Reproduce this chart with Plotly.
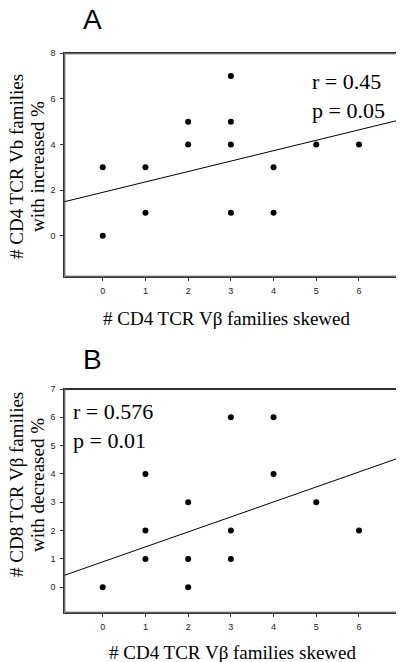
import plotly.graph_objects as go

# Panel A data
a_x = [0, 0, 1, 1, 2, 2, 3, 3, 3, 3, 4, 4, 5, 6]
a_y = [3, 0, 3, 1, 5, 4, 7, 5, 4, 1, 3, 1, 4, 4]
a_fit = (1.9, 0.457)   # intercept, slope
a_stats = ["r = 0.45", "p = 0.05"]
a_ytitle = ["# CD4 TCR Vb families", "with increased %"]

# Panel B data
b_x = [0, 1, 1, 1, 2, 2, 2, 3, 3, 3, 4, 4, 5, 6]
b_y = [0, 4, 2, 1, 3, 1, 0, 6, 2, 1, 6, 4, 3, 2]
b_fit = (0.896, 0.529)
b_stats = ["r = 0.576", "p = 0.01"]
b_ytitle = ["# CD8 TCR V\u03b2 families", "with decreased %"]

x_title = "# CD4 TCR V\u03b2 families skewed"
x_range = [-0.9, 7]
a_yrange = [-1.8, 8]
b_yrange = [-0.9, 7]
x_ticks = [0, 1, 2, 3, 4, 5, 6, 7]
a_yticks = [0, 2, 4, 6, 8]
b_yticks = [0, 1, 2, 3, 4, 5, 6, 7]

OFF = 8  # page body margin
W, H = 404 - OFF, 662 - OFF
AXC = "#333"
fig = go.Figure()

def px(x):
    return (x - OFF) / W

def py(y):
    return 1 - (y - OFF) / H

serif = "Liberation Serif"
sans = "Liberation Sans"

for xs, ys, fit, yr, xa, ya in [(a_x, a_y, a_fit, a_yrange, "x", "y"),
                                (b_x, b_y, b_fit, b_yrange, "x2", "y2")]:
    # plot frame drawn along the axis ranges (half is clipped, leaving a thin border)
    fig.add_trace(go.Scatter(x=[x_range[0], x_range[1], x_range[1], x_range[0], x_range[0]],
                             y=[yr[0], yr[0], yr[1], yr[1], yr[0]], mode="lines",
                             line=dict(color=AXC, width=2), xaxis=xa, yaxis=ya,
                             showlegend=False, hoverinfo="skip"))
    fig.add_trace(go.Scatter(x=xs, y=ys, mode="markers", marker=dict(color="black", size=6),
                             xaxis=xa, yaxis=ya, showlegend=False))
    fig.add_trace(go.Scatter(x=x_range, y=[fit[0] + fit[1] * v for v in x_range], mode="lines",
                             line=dict(color="black", width=1), xaxis=xa, yaxis=ya, showlegend=False))

axis_common = dict(showgrid=False, zeroline=False, showline=True, linecolor=AXC, linewidth=1,
                   mirror=True, ticks="outside", ticklen=3, tickwidth=1, tickcolor=AXC,
                   automargin=False,
                   tickfont=dict(family=sans, size=9, color="#222"))

xdom = [px(64.3), px(401.7)]
fig.update_layout(
    template="none",
    width=W, height=H, margin=dict(l=0, r=0, t=0, b=0, pad=0, autoexpand=False),
    paper_bgcolor="white", plot_bgcolor="white",
    xaxis=dict(domain=xdom, range=x_range, tickvals=x_ticks, anchor="y", ticklabelstandoff=2, **axis_common),
    yaxis=dict(domain=[py(276.7), py(53.3)], range=a_yrange, tickvals=a_yticks, anchor="x", ticklabelstandoff=3, **axis_common),
    xaxis2=dict(domain=xdom, range=x_range, tickvals=x_ticks, anchor="y2", ticklabelstandoff=2, **axis_common),
    yaxis2=dict(domain=[py(612.7), py(389)], range=b_yrange, tickvals=b_yticks, anchor="x2", ticklabelstandoff=3, **axis_common),
)

def note(text, x, y, size, family, xanchor="center", angle=0, align="center"):
    return dict(text=text, x=px(x), y=py(y), xref="paper", yref="paper", showarrow=False,
                xanchor=xanchor, yanchor="middle", textangle=angle, align=align,
                font=dict(family=family, size=size, color="black"))

ann = [
    note("A", 92, 19, 28, sans),
    note("B", 92, 359, 28, sans),
    note("<br>".join(a_stats), 310, 96, 22, serif, xanchor="left", align="left"),
    note("<br>".join(b_stats), 71, 426, 22, serif, xanchor="left", align="left"),
    note(x_title, 226, 318, 19, serif),
    note(x_title, 232, 652, 19, serif),
    note(a_ytitle[0], 16, 167, 19, serif, angle=-90),
    note(a_ytitle[1], 37, 167, 19, serif, angle=-90),
    note(b_ytitle[0], 16, 485, 19, serif, angle=-90),
    note(b_ytitle[1], 37, 485, 19, serif, angle=-90),
]
fig.update_layout(annotations=ann)

fig.write_html("out.html")
